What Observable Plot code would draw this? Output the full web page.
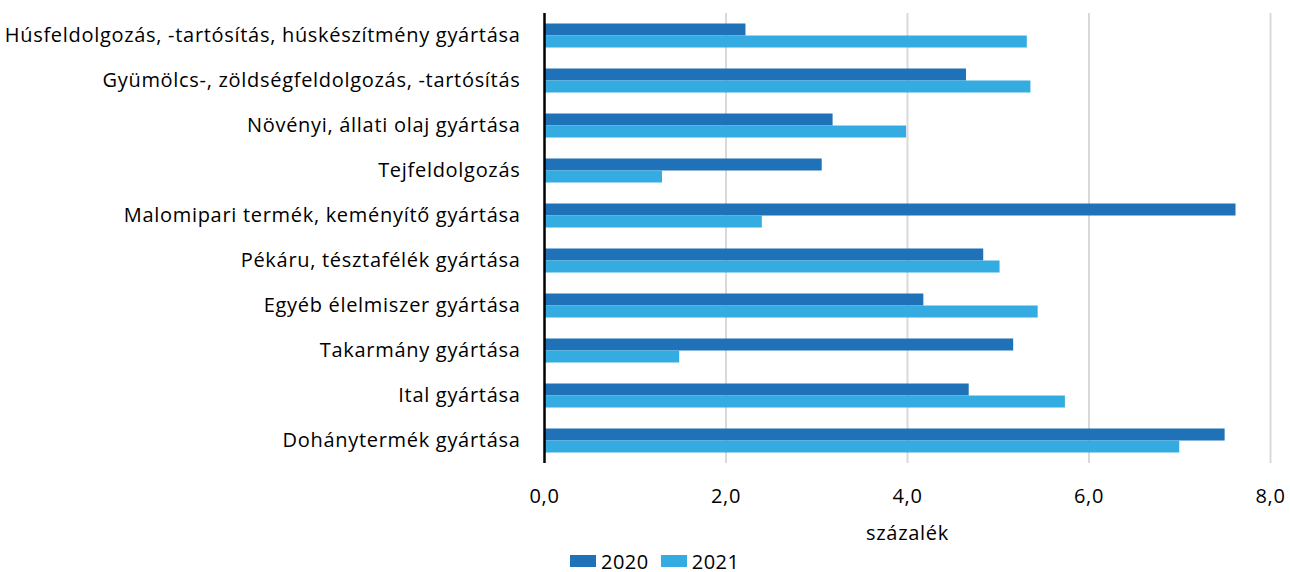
<!DOCTYPE html>
<html>
<head>
<meta charset="utf-8">
<script src="https://cdn.jsdelivr.net/npm/d3@7"></script>
<script src="https://cdn.jsdelivr.net/npm/@observablehq/plot@0.6"></script>
<style>
  body { margin: 0; background: #fff; font-family: "Open Sans", sans-serif; }
  svg text { letter-spacing: 0.7px; }
  #legend { display: flex; gap: 12px; margin-left: 570px; height: 22px; align-items: center; font-size: 20px; letter-spacing: 0.5px; color: #000; }
  #legend .item { display: flex; align-items: center; gap: 5px; }
  #legend .sw { width: 26px; height: 12px; display: inline-block; }
</style>
</head>
<body>
<div id="chart"></div>
<div id="legend"></div>
<script>
const categories = [
  "Húsfeldolgozás, -tartósítás, húskészítmény gyártása",
  "Gyümölcs-, zöldségfeldolgozás, -tartósítás",
  "Növényi, állati olaj gyártása",
  "Tejfeldolgozás",
  "Malomipari termék, keményítő gyártása",
  "Pékáru, tésztafélék gyártása",
  "Egyéb élelmiszer gyártása",
  "Takarmány gyártása",
  "Ital gyártása",
  "Dohánytermék gyártása"
];
const years = ["2020", "2021"];
const values2020 = [2.22, 4.65, 3.18, 3.06, 7.62, 4.84, 4.18, 5.17, 4.68, 7.50];
const values2021 = [5.32, 5.36, 3.99, 1.30, 2.40, 5.02, 5.44, 1.49, 5.74, 7.00];
const xTicks = [0, 2, 4, 6, 8];
const colors = ["#1f72b8", "#34ace1"];

const data = categories.flatMap((c, i) => [
  {cat: c, year: years[0], value: values2020[i]},
  {cat: c, year: years[1], value: values2021[i]}
]);

const fmt = d => d.toFixed(1).replace(".", ",");

const chart = Plot.plot({
  width: 1290,
  height: 550,
  marginLeft: 544,
  marginRight: 20,
  marginTop: 12.5,
  marginBottom: 87.5,
  style: {fontFamily: "'Open Sans', sans-serif", fontSize: "20px", color: "#000", background: "#fff"},
  x: {domain: [0, 8], ticks: xTicks, tickFormat: fmt, tickSize: 0, tickPadding: 25, label: "százalék", labelAnchor: "center", labelArrow: "none", labelOffset: 76},
  fy: {domain: categories, padding: 0, label: null, tickSize: 0, tickPadding: 24, axis: "left"},
  y: {domain: years, paddingInner: 0, paddingOuter: 0.875, axis: null},
  color: {domain: years, range: colors},
  marks: [
    Plot.ruleX(xTicks.slice(1), {stroke: "#d9d9d9", strokeWidth: 2}),
    Plot.barX(data, {x: "value", y: "year", fy: "cat", fill: "year"}),
    Plot.ruleX([0], {stroke: "#000", strokeWidth: 2.5})
  ]
});
document.getElementById("chart").appendChild(chart);

const legend = document.getElementById("legend");
years.forEach((y, i) => {
  const item = document.createElement("span");
  item.className = "item";
  const sw = document.createElement("span");
  sw.className = "sw";
  sw.style.background = colors[i];
  item.appendChild(sw);
  item.appendChild(document.createTextNode(y));
  legend.appendChild(item);
});
</script>
</body>
</html>
